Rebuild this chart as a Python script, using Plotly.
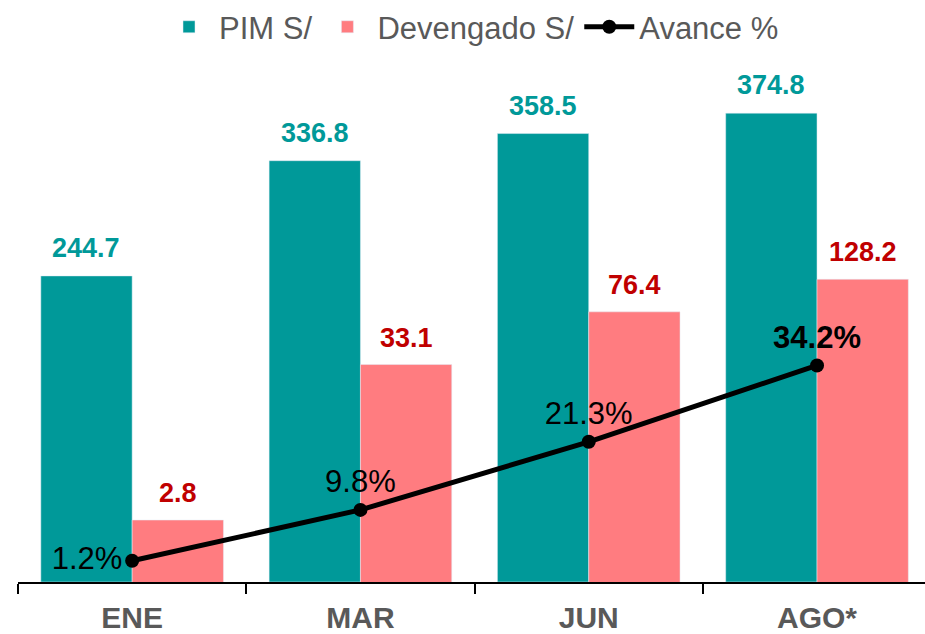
import math
import plotly.graph_objects as go

# ---- data ----
meses = ["ENE", "MAR", "JUN", "AGO*"]
pim = [244.7, 336.8, 358.5, 374.8]
devengado = [2.8, 33.1, 76.4, 128.2]
avance = [1.2, 9.8, 21.3, 34.2]

TEAL = "#009999"
PINK = "#FF7C80"
DARKRED = "#C00000"
GRAY = "#595959"
FONT = "Arial, Liberation Sans, sans-serif"

fig = go.Figure()

fig.add_trace(go.Bar(
    x=meses, y=pim, name="PIM S/", marker_color=TEAL,
    width=0.4, offset=-0.4, xaxis="x", yaxis="y",
))
fig.add_trace(go.Bar(
    x=meses, y=devengado, name="Devengado S/", marker_color=PINK,
    width=0.4, offset=0.0, xaxis="x", yaxis="y2",
))

avance_text = [f"{v:.1f}%" for v in avance]
avance_text[-1] = f"<b>{avance_text[-1]}</b>"
fig.add_trace(go.Scatter(
    x=meses, y=avance, name="Avance %", mode="lines+markers+text",
    line=dict(color="black", width=5), marker=dict(color="black", size=14),
    text=avance_text,
    textposition=["middle left", "top center", "top center", "top center"],
    textfont=dict(size=31, color="black", family=FONT),
    xaxis="x", yaxis="y3", cliponaxis=False,
))

annotations = []
for m, v in zip(meses, pim):
    annotations.append(dict(
        x=m, y=v, xref="x", yref="y", text=f"<b>{v:.1f}</b>", showarrow=False,
        xshift=-45.7, yshift=28, yanchor="middle",
        font=dict(size=27, color=TEAL, family=FONT),
    ))
for m, v in zip(meses, devengado):
    # annotations on a log axis take log10 positions
    annotations.append(dict(
        x=m, y=math.log10(v), xref="x", yref="y2", text=f"<b>{v:.1f}</b>", showarrow=False,
        xshift=45.7, yshift=27, yanchor="middle",
        font=dict(size=27, color=DARKRED, family=FONT),
    ))

fig.update_layout(
    width=925, height=634,
    margin=dict(l=18, r=0, t=60, b=52),
    plot_bgcolor="white", paper_bgcolor="white",
    font=dict(family=FONT, color=GRAY),
    showlegend=True,
    legend=dict(
        orientation="h", x=0.5, xanchor="center", y=1.063, yanchor="middle",
        font=dict(size=31, color=GRAY, family=FONT),
        itemwidth=50, bgcolor="rgba(0,0,0,0)",
    ),
    xaxis=dict(
        type="category", range=[-0.5, 3.473],
        showline=True, linecolor="black", linewidth=1.5,
        ticks="outside", tickson="boundaries", ticklen=10, tickwidth=1.5, tickcolor="black",
        tickfont=dict(size=30, color=GRAY, family=FONT), ticklabelstandoff=8,
        showgrid=False, automargin=False,
        tickprefix="<b>", ticksuffix="</b>",
    ),
    yaxis=dict(range=[0, 417.3], visible=False, showgrid=False),
    yaxis2=dict(type="log", range=[0.02, 3.62], overlaying="y", visible=False, showgrid=False),
    yaxis3=dict(range=[-2.38, 85.8], overlaying="y", visible=False, showgrid=False),
    annotations=annotations,
)

fig.write_html(
    "out.html",
    config={"displayModeBar": False},
    post_script="document.body.style.margin='0';",
)
